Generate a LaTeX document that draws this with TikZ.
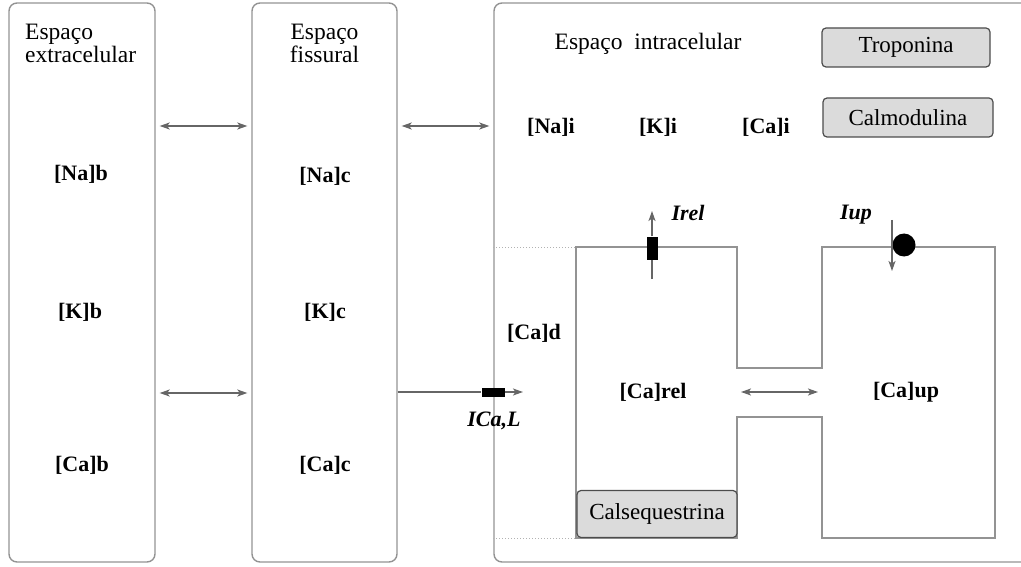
\documentclass[tikz,border=0pt]{standalone}
\usepackage{fontspec}
\setmainfont{Liberation Serif}
\usepackage{tikz}
\usetikzlibrary{calc, positioning, arrows.meta}

\tikzset{
    panel/.style={draw=gray!85, line width=1.4pt, rounded corners=8pt, inner sep=0pt},
    title/.style={font=\fontsize{23.5}{23}\selectfont},
    conc/.style={font=\bfseries\fontsize{22}{22}\selectfont},
    curr/.style={font=\bfseries\itshape\fontsize{22}{22}\selectfont},
    protein/.style={draw=gray!60!black, fill=gray!28, line width=1.2pt, rounded corners=4pt,
        font=\fontsize{23}{23}\selectfont},
    chan/.style={fill=black, inner sep=0pt},
    flux/.style={gray!80!black, line width=1.2pt},
}

\begin{document}
\begin{tikzpicture}[>={Stealth[length=10pt, width=7pt, inset=2.5pt]}, x=1pt, y=-1pt]
    \useasboundingbox (0,0) rectangle (1021,567);

    % 1. Ba khoang
    \node[panel, minimum width=146pt, minimum height=559pt] (extra) at (82,282.5) {};
    \node[panel, minimum width=145pt, minimum height=559pt] (fiss) at (324.5,282.5) {};
    \node[panel, minimum width=540pt, minimum height=559pt] (intra) at (764,282.5) {};

    % Tiêu đề
    \node[title, align=left, anchor=north west, inner sep=0pt] (tExtra) at (25,24) {Espaço\\extracelular};
    \node[title, align=center, anchor=north, inner sep=0pt] (tFiss) at (324.5,24) {Espaço\\fissural};
    \node[title, inner sep=0pt] (tIntra) at (648,44) {Espaço\ \ intracelular};

    % 2. Nồng độ
    \node[conc] (naB) at (81,174) {[Na]b};
    \node[conc] (kB) at (80,312) {[K]b};
    \node[conc] (caB) at (82,465) {[Ca]b};
    \node[conc] (naC) at (325,176) {[Na]c};
    \node[conc] (kC) at (325,312) {[K]c};
    \node[conc] (caC) at (325,465) {[Ca]c};
    \node[conc] (naI) at (551,127) {[Na]i};
    \node[conc] (kI) at (658,127) {[K]i};
    \node[conc] (caI) at (766,127) {[Ca]i};
    \node[conc] (caD) at (534,333) {[Ca]d};
    \node[conc] (caRel) at (653,392) {[Ca]rel};
    \node[conc] (caUp) at (906,392) {[Ca]up};

    % Protein
    \node[protein, minimum width=168pt, minimum height=39pt] (trop) at (906,47.5) {Troponina};
    \node[protein, minimum width=170pt, minimum height=39pt] (calm) at (908,117.5) {Calmodulina};

    % 3. Lưới nội chất (hình chữ H)
    \draw[gray!85, line width=1.4pt] (576,247) -- (737,247) -- (737,368) -- (822,368)
        -- (822,247) -- (995,247) -- (995,538) -- (822,538) -- (822,417) -- (737,417)
        -- (737,538) -- (576,538) -- cycle;
    \draw[gray!60, dotted, line width=1pt] (intra.west |- 0,247) -- (576,247);
    \draw[gray!60, dotted, line width=1pt] (intra.west |- 0,538) -- (576,538);
    \node[protein, minimum width=160pt, minimum height=47pt] (calseq) at (657,514) {Calsequestrina};

    % 4. Trao đổi giữa các khoang
    \coordinate (rowTop) at (0,126);
    \coordinate (rowBot) at (0,393);
    \coordinate (rowSr) at (0,392);
    \draw[flux, <->, shorten <=4pt, shorten >=4pt] (extra.east |- rowTop) -- (fiss.west |- rowTop);
    \draw[flux, <->, shorten <=4pt, shorten >=4pt] (fiss.east |- rowTop) -- (intra.west |- rowTop);
    \draw[flux, <->, shorten <=4pt, shorten >=4pt] (extra.east |- rowBot) -- (fiss.west |- rowBot);
    \draw[flux, <->, shorten <=4pt, shorten >=4pt] (737,0 |- rowSr) -- (822,0 |- rowSr);

    % 5. Dòng ion
    \node[chan, minimum width=23pt, minimum height=9pt] (chanL) at (493,392) {};
    \coordinate (tipL) at (523,392);
    \draw[flux] (fiss.east |- chanL) -- (chanL.west);
    \draw[flux, ->] (chanL.east) -- (tipL);
    \node[curr] (iCaL) at (494,421) {ICa,L};

    \node[chan, minimum width=11pt, minimum height=23pt] (chanRel) at (652,248) {};
    \coordinate (relLow) at (652,279);
    \coordinate (relTop) at (652,211);
    \draw[flux] (relLow) -- (chanRel.south);
    \draw[flux, ->] (chanRel.north) -- (relTop);
    \node[curr] (iRel) at (688,213) {Irel};

    \node[circle, fill=black, minimum size=23pt, inner sep=0pt] (pumpUp) at (904,245) {};
    \coordinate (upTop) at (892,220);
    \coordinate (upLow) at (892,271);
    \draw[flux, ->] (upTop) -- (upLow);
    \node[curr] (iUp) at (856,215) {Iup};

\end{tikzpicture}
\end{document}
